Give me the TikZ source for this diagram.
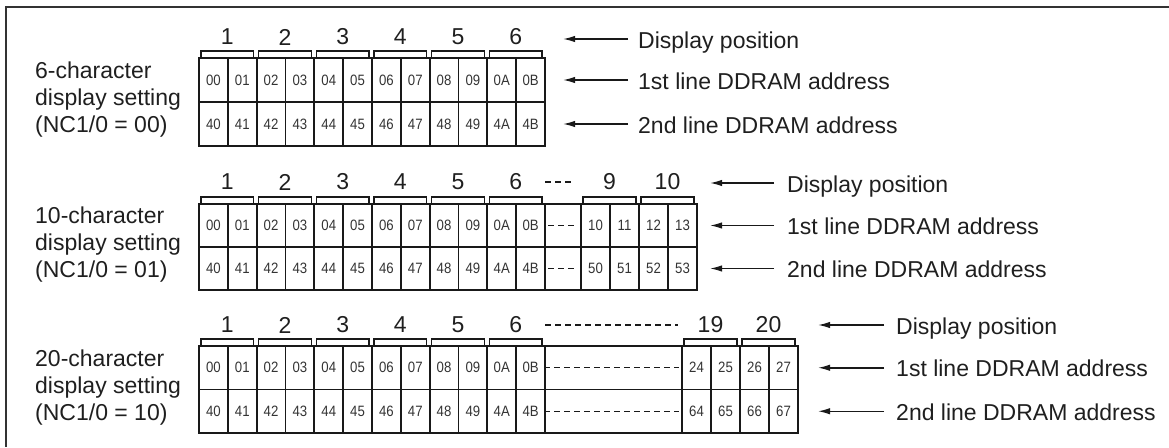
\documentclass[tikz,border=0pt]{standalone}
\usepackage{fontspec}
\usepackage{graphicx}
\setmainfont{Liberation Sans}
\usetikzlibrary{arrows.meta}
\newcommand\cn[1]{\scalebox{0.88}[1]{#1}}
\begin{document}
\begin{tikzpicture}[x=1pt,y=-1pt,
  big/.style={font=\fontsize{23}{27}\selectfont, inner sep=0pt, text=black!88},
  cell/.style={draw=black!90, line width=1.7pt, font=\fontsize{15}{17}\selectfont, text=black!80,
     inner sep=0pt, minimum width=28.833pt, minimum height=44pt},
  cellb/.style={cell, minimum width=29pt},
  brk/.style={line width=1.5pt, draw=black!90},
  arr/.style={line width=1.5pt, draw=black!90, -{Latex[length=12pt,width=6.5pt]}},
  frame/.style={line width=2.2pt, draw=black!80},
  dsh/.style={line width=1.4pt, draw=black!90, dash pattern=on 6pt off 4pt}]
\useasboundingbox (0,0) rectangle (1169,447);
% frame
\coordinate (ftl) at (6,7); \coordinate (ftr) at (1169,7); \coordinate (fbl) at (6,447);
\draw[frame] (ftr) -- (ftl) -- (fbl);

%================ Section 1 ================
\node[big, anchor=base west] (s1t1) at (35,78) {6-character};
\node[big, anchor=base west] (s1t2) at (35,105) {display setting};
\node[big, anchor=base west] (s1t3) at (35,132) {(NC1/0 = 00)};
\foreach \lab [count=\n from 0] in {00,01,02,03,04,05,06,07,08,09,0A,0B}
  \node[cell] (s1a\n) at ({199+(\n+0.5)*28.833},80) {\cn{\lab}};
\foreach \lab [count=\n from 0] in {40,41,42,43,44,45,46,47,48,49,4A,4B}
  \node[cell] (s1b\n) at ({199+(\n+0.5)*28.833},124) {\cn{\lab}};
\foreach \k in {1,...,6} {
  \pgfmathsetmacro\xl{199+(2*\k-2)*28.833+2}
  \pgfmathsetmacro\xr{199+2*\k*28.833-3}
  \draw[brk] (\xl,58) -- (\xl,51) -- (\xr,51) -- (\xr,58);
  \node[big] (s1p\k) at ({(\xl+\xr)/2},37) {\k};
}
\foreach \yy/\txt [count=\n] in {39/Display position,80/1st line DDRAM address,124/2nd line DDRAM address} {
  \node[big, anchor=base west] (s1l\n) at (638,\yy+9) {\txt};
  \coordinate (s1s\n) at (628,\yy);
  \coordinate (s1e\n) at (563,\yy);
  \draw[arr] (s1s\n) -- (s1e\n);
}

%================ Section 2 ================
\node[big, anchor=base west] (s2t1) at (35,223) {10-character};
\node[big, anchor=base west] (s2t2) at (35,250) {display setting};
\node[big, anchor=base west] (s2t3) at (35,277) {(NC1/0 = 01)};
\foreach \lab [count=\n from 0] in {00,01,02,03,04,05,06,07,08,09,0A,0B}
  \node[cell, minimum height=43pt] (s2a\n) at ({199+(\n+0.5)*28.833},225.5) {\cn{\lab}};
\foreach \lab [count=\n from 0] in {40,41,42,43,44,45,46,47,48,49,4A,4B}
  \node[cell, minimum height=43pt] (s2b\n) at ({199+(\n+0.5)*28.833},268.5) {\cn{\lab}};
\node[cell, minimum height=43pt, minimum width=36pt] (s2da) at (563,225.5) {};
\node[cell, minimum height=43pt, minimum width=36pt] (s2db) at (563,268.5) {};
\draw[dsh] ([xshift=4pt]s2da.west) -- ([xshift=-4pt]s2da.east);
\draw[dsh] ([xshift=4pt]s2db.west) -- ([xshift=-4pt]s2db.east);
\foreach \lab [count=\n from 0] in {10,11,12,13}
  \node[cellb, minimum height=43pt] (s2c\n) at ({581+(\n+0.5)*29},225.5) {\cn{\lab}};
\foreach \lab [count=\n from 0] in {50,51,52,53}
  \node[cellb, minimum height=43pt] (s2e\n) at ({581+(\n+0.5)*29},268.5) {\cn{\lab}};
\foreach \k in {1,...,6} {
  \pgfmathsetmacro\xl{199+(2*\k-2)*28.833+2}
  \pgfmathsetmacro\xr{199+2*\k*28.833-3}
  \draw[brk] (\xl,204) -- (\xl,197) -- (\xr,197) -- (\xr,204);
  \node[big] (s2p\k) at ({(\xl+\xr)/2},182) {\k};
}
\coordinate (s2g1) at (545,182); \coordinate (s2g2) at (573,182);
\draw[dsh] (s2g1) -- (s2g2);
\foreach \k/\xa in {9/581,10/639} {
  \draw[brk] (\xa+2,204) -- (\xa+2,197) -- (\xa+55,197) -- (\xa+55,204);
  \node[big] (s2p\k) at (\xa+28.5,182) {\k};
}
\foreach \yy/\txt [count=\n] in {183/Display position,225.5/1st line DDRAM address,268.5/2nd line DDRAM address} {
  \node[big, anchor=base west] (s2l\n) at (787,\yy+9) {\txt};
  \coordinate (s2s\n) at (774,\yy);
  \coordinate (s2e\n) at (710,\yy);
  \draw[arr] (s2s\n) -- (s2e\n);
}

%================ Section 3 ================
\node[big, anchor=base west] (s3t1) at (35,366) {20-character};
\node[big, anchor=base west] (s3t2) at (35,393) {display setting};
\node[big, anchor=base west] (s3t3) at (35,420) {(NC1/0 = 10)};
\foreach \lab [count=\n from 0] in {00,01,02,03,04,05,06,07,08,09,0A,0B}
  \node[cell, minimum height=43.5pt] (s3a\n) at ({199+(\n+0.5)*28.833},367.75) {\cn{\lab}};
\foreach \lab [count=\n from 0] in {40,41,42,43,44,45,46,47,48,49,4A,4B}
  \node[cell, minimum height=43.5pt] (s3b\n) at ({199+(\n+0.5)*28.833},411.25) {\cn{\lab}};
\node[cell, minimum height=43.5pt, minimum width=137pt] (s3da) at (613.5,367.75) {};
\node[cell, minimum height=43.5pt, minimum width=137pt] (s3db) at (613.5,411.25) {};
\draw[dsh] (s3da.west) -- ([xshift=-4pt]s3da.east);
\draw[dsh] (s3db.west) -- ([xshift=-4pt]s3db.east);
\foreach \lab [count=\n from 0] in {24,25,26,27}
  \node[cellb, minimum height=43.5pt] (s3c\n) at ({682+(\n+0.5)*29},367.75) {\cn{\lab}};
\foreach \lab [count=\n from 0] in {64,65,66,67}
  \node[cellb, minimum height=43.5pt] (s3e\n) at ({682+(\n+0.5)*29},411.25) {\cn{\lab}};
\foreach \k in {1,...,6} {
  \pgfmathsetmacro\xl{199+(2*\k-2)*28.833+2}
  \pgfmathsetmacro\xr{199+2*\k*28.833-3}
  \draw[brk] (\xl,346) -- (\xl,339) -- (\xr,339) -- (\xr,346);
  \node[big] (s3p\k) at ({(\xl+\xr)/2},325) {\k};
}
\coordinate (s3g1) at (545,325); \coordinate (s3g2) at (678,325);
\draw[dsh] (s3g1) -- (s3g2);
\foreach \k/\xa in {19/682,20/740} {
  \draw[brk] (\xa+2,346) -- (\xa+2,339) -- (\xa+55,339) -- (\xa+55,346);
  \node[big] (s3p\k) at (\xa+28.5,325) {\k};
}
\foreach \yy/\txt [count=\n] in {325/Display position,367.75/1st line DDRAM address,411.25/2nd line DDRAM address} {
  \node[big, anchor=base west] (s3l\n) at (896,\yy+9) {\txt};
  \coordinate (s3s\n) at (884,\yy);
  \coordinate (s3e\n) at (818,\yy);
  \draw[arr] (s3s\n) -- (s3e\n);
}
\end{tikzpicture}
\end{document}
